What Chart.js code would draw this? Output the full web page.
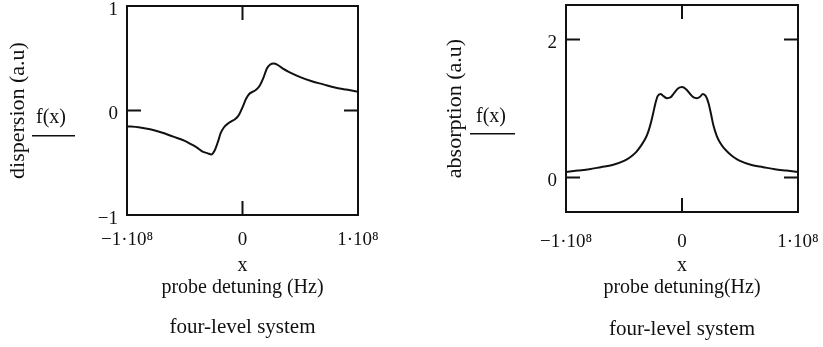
<!DOCTYPE html>
<html>
<head>
  <meta charset="UTF-8">
  <title>Four-level system: dispersion and absorption</title>
  <script src="https://cdn.jsdelivr.net/npm/chart.js"></script>
  <style>
    body {
      margin: 0;
      background: #fff;
      width: 823px;
      height: 347px;
      position: relative;
      overflow: hidden;
    }
    canvas {
      position: absolute;
      top: 0;
    }
  </style>
</head>
<body>

  <canvas id="dispChart" width="411" height="347" style="left:0;width:411px;height:347px"></canvas>
  <canvas id="absChart" width="412" height="347" style="left:411px;width:412px;height:347px"></canvas>

  <script>
    // probe detuning x (Hz) and f(x)
    const dispX = [-10e7, -9e7, -8e7, -7e7, -6e7, -5e7, -4.5e7, -4e7, -3.5e7, -3e7, -2.7e7, -2.4e7, -2.1e7, -1.9e7,
                   -1.6e7, -1.2e7, -0.9e7, -0.6e7, -0.3e7, 0, 0.3e7, 0.6e7, 0.9e7, 1.2e7, 1.5e7, 1.8e7, 2.1e7,
                   2.4e7, 2.7e7, 3e7, 3.5e7, 4e7, 5e7, 6e7, 7e7, 8e7, 9e7, 10e7];
    const dispY = [-0.15, -0.16, -0.18, -0.21, -0.25, -0.29, -0.32, -0.35, -0.39, -0.41, -0.42, -0.38, -0.29, -0.22,
                   -0.16, -0.12, -0.10, -0.08, -0.04, 0.03, 0.11, 0.16, 0.18, 0.20, 0.24, 0.31, 0.40,
                   0.44, 0.45, 0.44, 0.40, 0.37, 0.32, 0.28, 0.25, 0.22, 0.20, 0.18];

    const absX = [-10e7, -9e7, -8e7, -7e7, -6e7, -5e7, -4.5e7, -4e7, -3.5e7, -3.2e7, -3e7, -2.75e7, -2.5e7, -2.3e7,
                  -2.1e7, -1.85e7, -1.6e7, -1.3e7, -1e7, -0.7e7, -0.35e7, 0, 0.35e7, 0.7e7, 1e7, 1.3e7, 1.55e7,
                  1.8e7, 2.05e7, 2.3e7, 2.5e7, 2.7e7, 3e7, 3.3e7, 3.6e7, 4e7, 4.5e7, 5e7, 6e7, 7e7, 8e7, 9e7, 10e7];
    const absY = [0.08, 0.10, 0.12, 0.15, 0.18, 0.24, 0.29, 0.36, 0.47, 0.55, 0.62, 0.75, 0.92, 1.07,
                  1.18, 1.21, 1.18, 1.15, 1.16, 1.22, 1.29, 1.31, 1.28, 1.21, 1.16, 1.15, 1.17,
                  1.21, 1.18, 1.07, 0.92, 0.76, 0.60, 0.50, 0.43, 0.36, 0.29, 0.24, 0.18, 0.15, 0.12, 0.10, 0.08];

    const xTicks = [-1e8, 0, 1e8];
    const dispTicks = [-1, 0, 1];
    const absTicks = [0, 2];

    const SERIF = '"Liberation Serif", "Times New Roman", serif';
    const INK = '#111';
    const SUP = '⁰¹²³⁴⁵⁶⁷⁸⁹';

    // mathcad style tick text: −1·10⁸
    function sciLabel(v) {
      if (v === 0) return '0';
      const exp = Math.round(Math.log10(Math.abs(v)));
      const mant = Math.abs(v) / Math.pow(10, exp);
      const sup = String(exp).split('').map(d => SUP[+d]).join('');
      return (v < 0 ? '\u2212' : '') + mant + '\u00b710' + sup;
    }

    // box round the plot, inner tick marks, f(x) label and caption
    const frame = {
      id: 'frame',
      afterDatasetsDraw(chart, args, opts) {
        const { ctx, chartArea: a, scales: { x, y } } = chart;
        const len = 14;
        ctx.save();
        ctx.strokeStyle = INK;
        ctx.lineWidth = 2;
        ctx.strokeRect(a.left, a.top, a.right - a.left, a.bottom - a.top);

        ctx.beginPath();
        x.ticks.forEach(t => {
          if (t.value <= x.min || t.value >= x.max) return;
          const px = x.getPixelForValue(t.value);
          ctx.moveTo(px, a.top); ctx.lineTo(px, a.top + len);
          ctx.moveTo(px, a.bottom); ctx.lineTo(px, a.bottom - len);
        });
        y.ticks.forEach(t => {
          if (t.value <= y.min || t.value >= y.max) return;
          const py = y.getPixelForValue(t.value);
          ctx.moveTo(a.left, py); ctx.lineTo(a.left + len, py);
          ctx.moveTo(a.right, py); ctx.lineTo(a.right - len, py);
        });
        ctx.stroke();

        ctx.fillStyle = INK;
        ctx.textAlign = 'center';
        ctx.textBaseline = 'alphabetic';
        ctx.font = '20px ' + SERIF;
        ctx.fillText('f(x)', opts.fx, opts.fy);
        ctx.fillRect(opts.barX, opts.barY, opts.barW, 1.5);

        ctx.font = '21px ' + SERIF;
        ctx.fillText(opts.caption, (a.left + a.right) / 2, opts.captionY);
        ctx.restore();
      }
    };

    function makeChart(id, xs, ys, p) {
      return new Chart(document.getElementById(id), {
        type: 'line',
        data: {
          datasets: [{
            data: xs.map((v, i) => ({ x: v, y: ys[i] })),
            borderColor: INK,
            borderWidth: 2,
            pointRadius: 0,
            cubicInterpolationMode: 'monotone',
            fill: false
          }]
        },
        options: {
          responsive: false,
          animation: false,
          events: [],
          layout: { padding: { left: 0, right: p.padRight, top: p.padTop, bottom: 0 } },
          plugins: {
            legend: { display: false },
            tooltip: { enabled: false },
            frame: p.frame
          },
          scales: {
            x: {
              type: 'linear',
              min: -1e8,
              max: 1e8,
              afterBuildTicks: s => { s.ticks = xTicks.map(v => ({ value: v })); },
              afterFit: s => { s.height = p.xHeight; s.paddingLeft = 0; s.paddingRight = 0; },
              grid: { display: false, drawTicks: false },
              border: { display: false },
              ticks: {
                autoSkip: false,
                maxRotation: 0,
                padding: p.xTickPad,
                color: INK,
                font: { family: SERIF, size: 19 },
                callback: v => sciLabel(v)
              },
              title: {
                display: true,
                text: ['x', p.xTitle],
                color: INK,
                font: { family: SERIF, size: 20, lineHeight: 1.1 },
                padding: { top: 0, bottom: 48 }
              }
            },
            y: {
              min: p.yMin,
              max: p.yMax,
              afterBuildTicks: s => { s.ticks = p.yTicks.map(v => ({ value: v })); },
              afterFit: s => { s.width = p.yWidth; s.paddingTop = 0; s.paddingBottom = 0; },
              grid: { display: false, drawTicks: false },
              border: { display: false },
              ticks: {
                padding: 9,
                labelOffset: 4,
                color: INK,
                font: { family: SERIF, size: 19 },
                callback: v => (v < 0 ? '\u2212' + Math.abs(v) : String(v))
              },
              title: {
                display: true,
                text: p.yTitle,
                color: INK,
                font: { family: SERIF, size: 22 },
                padding: { top: p.yTitlePad, bottom: 0 }
              }
            }
          }
        },
        plugins: [frame]
      });
    }

    makeChart('dispChart', dispX, dispY, {
      yMin: -1, yMax: 1, yTicks: dispTicks,
      yTitle: 'dispersion (a.u)', yTitlePad: 5,
      xTitle: 'probe detuning (Hz)',
      yWidth: 127, xHeight: 132, padTop: 6, padRight: 53, xTickPad: 14,
      frame: { fx: 51, fy: 123, barX: 32, barY: 135, barW: 43, caption: 'four-level system', captionY: 333 }
    });

    makeChart('absChart', absX, absY, {
      yMin: -0.5, yMax: 2.5, yTicks: absTicks,
      yTitle: 'absorption (a.u)', yTitlePad: 31,
      xTitle: 'probe detuning(Hz)',
      yWidth: 155, xHeight: 135, padTop: 5, padRight: 25, xTickPad: 19,
      frame: { fx: 80, fy: 122, barX: 59, barY: 133, barW: 45, caption: 'four-level system', captionY: 335 }
    });
  </script>

</body>
</html>
